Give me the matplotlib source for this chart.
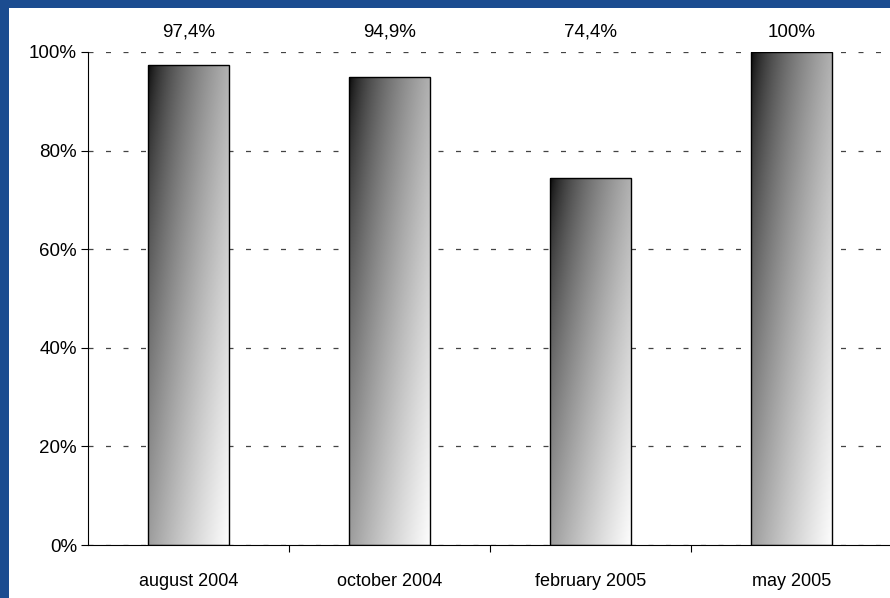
import numpy as np
from matplotlib import pyplot as plt

# Chart data
categories = ['august 2004', 'october 2004', 'february 2005', 'may 2005']
values = [97.4, 94.9, 74.4, 100.0]
value_labels = ['97,4%', '94,9%', '74,4%', '100%']
y_ticks = [0, 20, 40, 60, 80, 100]

plt.rcParams['font.family'] = ['Liberation Sans', 'DejaVu Sans']

fig = plt.figure(figsize=(8.9, 5.98), dpi=100)
fig.patch.set_facecolor('#1b4c90')

# white panel over the blue background
panel = fig.add_axes([9 / 890, 0, 1, 590 / 598])
panel.set_facecolor('white')
panel.set_xticks([])
panel.set_yticks([])
for s in panel.spines.values():
    s.set_visible(False)

ax = fig.add_axes([88 / 890, 53 / 598, 804 / 890, 493 / 598])
ax.set_facecolor('none')

x = np.arange(len(categories))
bars = ax.bar(x, values, width=0.4, facecolor='none', edgecolor='black',
              linewidth=1.0, zorder=3)

# diagonal gradient: dark top-left to light bottom-right
u, v = np.meshgrid(np.linspace(0, 1, 200), np.linspace(0, 1, 300))
grad = 0.99 * (0.55 * u + 0.45 * v) ** 0.6
for b in bars:
    im = ax.imshow(grad, cmap='gray', vmin=0, vmax=1, aspect='auto',
                   extent=[b.get_x(), b.get_x() + b.get_width(), 0, b.get_height()],
                   origin='upper', zorder=2)
    im.set_clip_path(b)

for xi, lab in zip(x, value_labels):
    ax.text(xi, 104, lab, ha='center', va='center', fontsize=13.5, clip_on=False)

ax.set_xlim(-0.5, len(categories) - 0.5)
ax.set_ylim(0, 100)
ax.set_yticks(y_ticks)
ax.set_yticklabels([f'{t}%' for t in y_ticks], fontsize=13.5)
ax.yaxis.grid(True, linestyle=(0, (4, 10)), color='#444444', linewidth=0.9, zorder=1)
ax.set_axisbelow(True)

# category boundary ticks, labels at centres
ax.set_xticks(np.arange(0.5, len(categories) - 0.5, 1))
ax.set_xticklabels([])
ax.set_xticks(x, minor=True)
ax.set_xticklabels(categories, minor=True, fontsize=13)
ax.tick_params(axis='x', which='minor', length=0, pad=20)
ax.tick_params(axis='x', which='major', length=5, direction='out')
ax.tick_params(axis='y', length=5, direction='out', pad=3)

ax.spines['top'].set_visible(False)
ax.spines['right'].set_visible(False)

fig.savefig('out.png', dpi=100, facecolor=fig.get_facecolor())
